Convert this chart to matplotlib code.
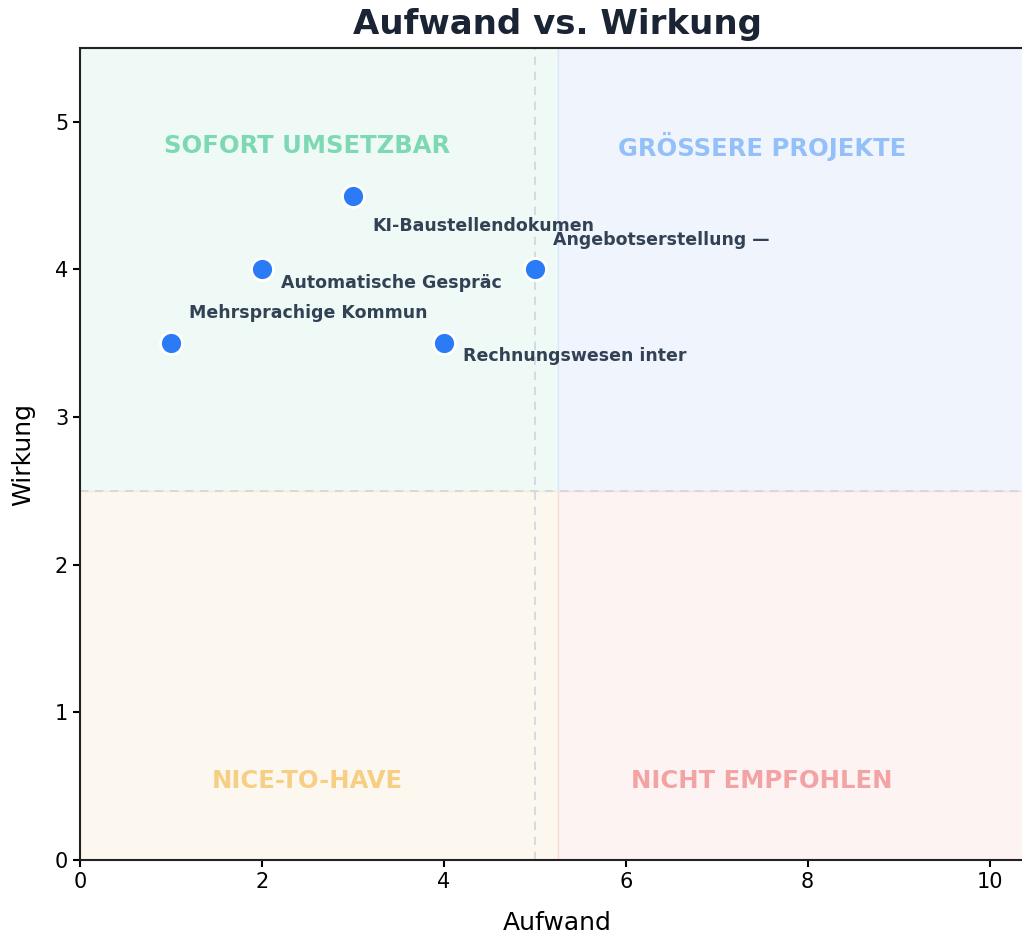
import matplotlib
matplotlib.use("Agg")
import matplotlib.pyplot as plt
from matplotlib.patches import Rectangle

# Data
labels = ["Mehrsprachige Kommunikation", "Automatische Gesprächsnotizen",
          "KI-Baustellendokumentation", "Rechnungswesen intern",
          "Angebotserstellung — Kalkulation"]
aufwand = [1, 2, 3, 4, 5]
wirkung = [3.5, 4.0, 4.5, 3.5, 4.0]
label_offsets = [(13, 21.5), (14, -10), (14, -22), (14, -9.5), (13, 21)]

quadrant_names = ["SOFORT UMSETZBAR", "GRÖSSERE PROJEKTE", "NICE-TO-HAVE", "NICHT EMPFOHLEN"]
quadrant_pos = [(2.5, 4.85), (7.5, 4.85), (2.5, 0.55), (7.5, 0.55)]
quadrant_colors = ["#7dd9b4", "#93c0f8", "#f6cf85", "#f3a3a3"]

fig = plt.figure(figsize=(10.22, 9.38), dpi=100)
ax = fig.add_axes([80/1022, 78/938, 955/1022, 812/938])

split_x = 5.25
split_y = 2.5
xmax, ymax = 10.5, 5.5
bg = [((0, split_y), split_x, ymax - split_y, "#eff9f5"),
      ((split_x, split_y), xmax - split_x, ymax - split_y, "#f0f5fd"),
      ((0, 0), split_x, split_y, "#fdf8ef"),
      ((split_x, 0), xmax - split_x, split_y, "#fdf3f2")]
edge = ["#e3f1ec", "#d9e8f9", "#f8ebd6", "#f9dcd8"]
for (xy, w, h, c), ec in zip(bg, edge):
    ax.add_patch(Rectangle(xy, w, h, facecolor=c, edgecolor=ec, lw=1, zorder=0))

ax.axvline(5, color="#cfd6dc", ls=(0, (5, 4)), lw=1.2, zorder=1)
ax.axhline(2.5, color="#cfd6dc", ls=(0, (5, 4)), lw=1.2, zorder=1)

for name, (qx, qy), c in zip(quadrant_names, quadrant_pos, quadrant_colors):
    ax.text(qx, qy, name, ha="center", va="center_baseline", fontsize=17.5,
            fontweight="bold", color=c, zorder=2)

ax.scatter(aufwand, wirkung, s=250, color="#2b7bf6", edgecolor="white",
           linewidth=2, zorder=3)
for lab, x, y, off in zip(labels, aufwand, wirkung, label_offsets):
    ax.annotate(lab[:20], (x, y), xytext=off, textcoords="offset points",
                ha="left", va="center", fontsize=12.5, fontweight="bold",
                color="#334155", zorder=4)

ax.set_xlim(0, xmax)
ax.set_ylim(0, ymax)
ax.set_xticks([0, 2, 4, 6, 8, 10])
ax.set_yticks([0, 1, 2, 3, 4, 5])
ax.tick_params(labelsize=15, width=1.5, length=5)
ax.set_xlabel("Aufwand", fontsize=18, labelpad=14)
ax.set_ylabel("Wirkung", fontsize=18, labelpad=14)
ax.set_title("Aufwand vs. Wirkung", fontsize=24.5, fontweight="bold",
             color="#1a2434", pad=10)
for s in ax.spines.values():
    s.set_linewidth(1.5)
    s.set_color("#222222")

fig.savefig("out.png", dpi=100)
